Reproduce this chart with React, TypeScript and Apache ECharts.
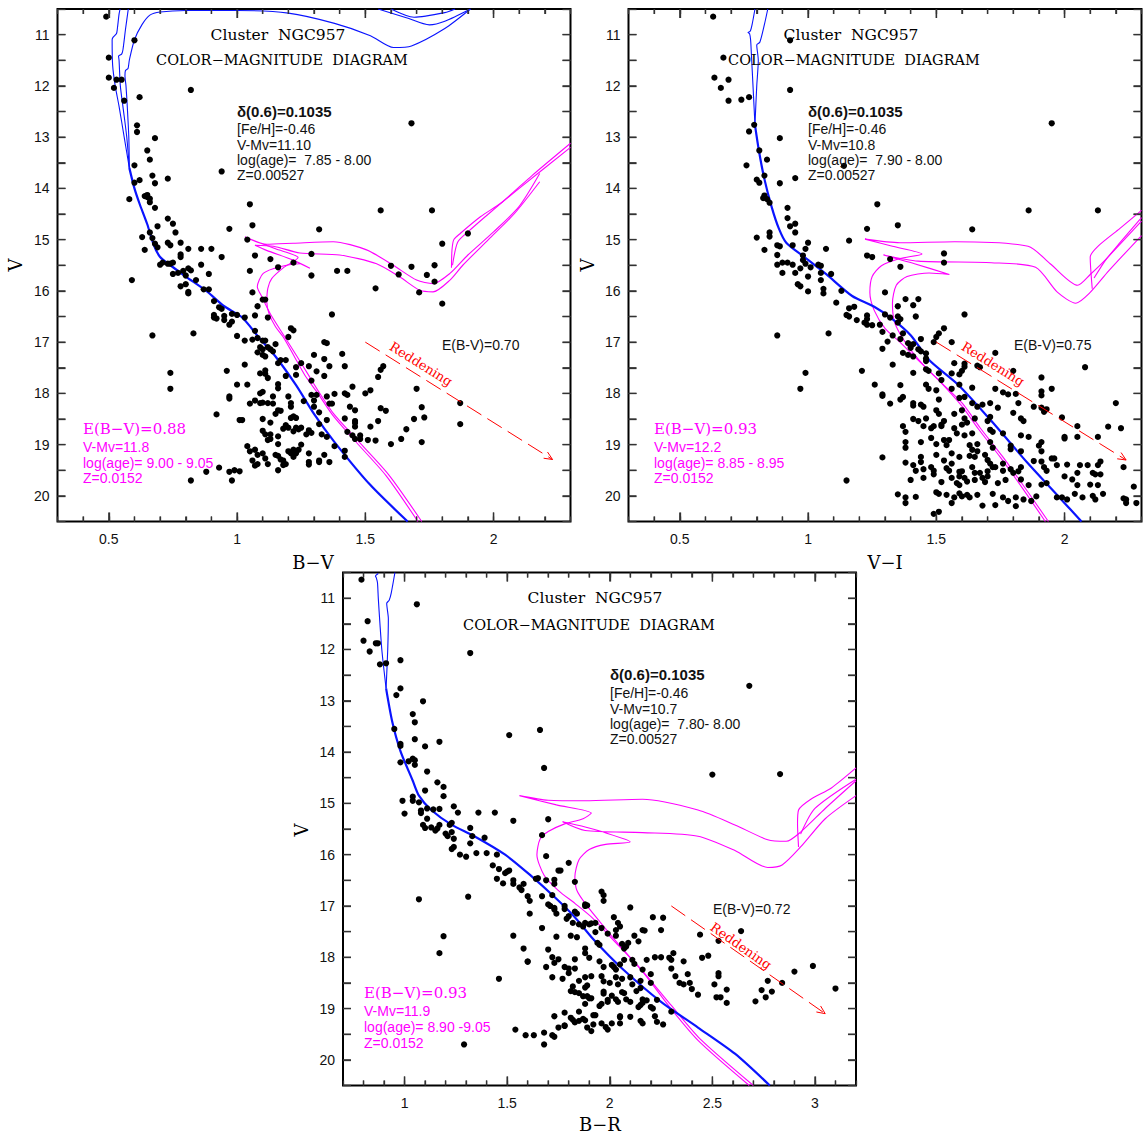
import React, { useEffect, useRef } from "react";
import * as echarts from "echarts";

// ---------------- data ----------------
const Y_LABELS = [11, 12, 13, 14, 15, 16, 17, 18, 19, 20];
const Y_TICKS = [11, 11.5, 12, 12.5, 13, 13.5, 14, 14.5, 15, 15.5, 16, 16.5, 17, 17.5, 18, 18.5, 19, 19.5, 20];
const X12_MAJOR = [0.5, 1, 1.5, 2];
const X12_MINOR = [0.4, 0.6, 0.7, 0.8, 0.9, 1.1, 1.2, 1.3, 1.4, 1.6, 1.7, 1.8, 1.9, 2.1, 2.2];
const X3_MAJOR = [1, 1.5, 2, 2.5, 3];
const X3_MINOR = [0.8, 0.9, 1.1, 1.2, 1.3, 1.4, 1.6, 1.7, 1.8, 1.9, 2.1, 2.2, 2.3, 2.4, 2.6, 2.7, 2.8, 2.9, 3.1];

const P1_STARS = [
  [0.49,10.65],[0.50,11.45],[0.50,11.84],[0.52,12.04],[0.53,11.88],[0.55,11.88],[0.56,12.29],[0.60,11.11],[0.62,12.22],[0.61,12.77],[0.61,12.9],[0.82,12.08],[0.68,13.02],[0.65,13.26],[0.66,13.44],[0.60,13.55],[0.67,13.75],[0.68,13.9],[0.62,13.84],[0.60,13.89],[0.73,13.81],[0.94,13.67],[0.58,14.21],[0.64,14.15],[0.65,14.17],[0.66,14.2],[0.65,14.13],[0.66,14.27],[0.68,14.38],[1.05,14.31],[1.56,14.43],[1.76,14.43],[1.68,12.73],[0.73,14.59],[0.75,14.69],[0.69,14.74],[0.97,14.79],[1.06,14.72],[1.32,14.8],[0.63,14.95],[0.66,14.86],[0.67,14.97],[0.64,15.2],[0.68,15.08],[0.69,15.15],[0.73,15.06],[0.74,15.11],[0.71,15.45],[0.70,15.49],[0.73,15.47],[0.74,15.47],[0.75,15.45],[0.76,14.86],[0.78,15.06],[0.78,15.29],[0.78,15.34],[0.81,15.18],[0.86,15.18],[0.90,15.18],[0.94,15.34],[1.04,15.0],[1.07,15.31],[1.13,15.38],[1.29,15.28],[0.75,15.67],[0.77,15.65],[0.79,15.61],[0.80,15.70],[0.81,15.56],[0.82,15.6],[0.84,15.79],[0.86,15.49],[0.89,15.67],[0.78,15.91],[0.80,15.87],[0.81,16.02],[0.81,16.05],[0.87,15.97],[0.89,15.97],[0.59,15.79],[1.05,15.61],[1.16,15.54],[1.22,15.45],[1.29,15.7],[1.39,15.61],[1.43,15.61],[1.54,15.95],[1.60,15.51],[1.63,15.68],[1.68,15.53],[1.74,15.69],[1.77,15.5],[1.77,15.82],[1.71,16.03],[1.80,15.08],[1.80,16.25],[1.90,14.88],[1.06,16.03],[1.10,16.17],[1.11,16.17],[1.08,16.3],[0.91,16.2],[0.93,16.32],[0.94,16.35],[0.91,16.47],[0.91,16.52],[0.92,16.54],[0.95,16.49],[0.95,16.57],[0.98,16.6],[0.97,16.66],[1.0,16.47],[1.03,16.52],[0.98,16.45],[1.07,16.48],[1.12,16.52],[1.37,16.46],[1.0,16.88],[1.03,16.97],[1.07,16.78],[1.06,16.95],[1.08,16.92],[1.10,16.97],[1.11,16.97],[1.21,16.73],[1.22,16.77],[1.20,16.9],[1.15,17.04],[1.09,17.1],[1.10,17.14],[1.12,17.1],[1.13,17.14],[1.14,17.18],[1.08,17.2],[1.10,17.25],[1.11,17.28],[1.34,17.0],[1.35,17.02],[1.30,17.25],[1.41,17.23],[1.17,17.35],[1.16,17.41],[1.19,17.35],[1.23,17.49],[1.25,17.41],[1.28,17.47],[1.34,17.33],[1.36,17.47],[1.42,17.47],[1.03,17.44],[0.96,17.56],[1.09,17.61],[1.11,17.62],[1.12,17.7],[1.11,17.55],[1.19,17.66],[1.23,17.64],[1.31,17.57],[1.29,17.75],[1.34,17.66],[1.45,17.87],[1.52,17.94],[1.50,18.0],[1.55,17.68],[1.56,17.54],[1.57,17.47],[1.70,17.91],[1.0,17.83],[1.04,17.83],[1.16,17.82],[1.10,17.97],[1.09,18.0],[0.97,18.06],[0.97,18.1],[1.16,17.9],[1.14,18.06],[1.20,18.06],[1.29,18.03],[1.31,18.03],[1.35,18.06],[1.38,18.01],[1.42,18.0],[1.43,18.03],[1.05,18.2],[1.07,18.14],[1.09,18.19],[1.10,18.18],[1.12,18.19],[1.14,18.2],[1.21,18.19],[1.21,18.26],[1.26,18.15],[1.30,18.14],[1.30,18.26],[1.32,18.37],[1.36,18.2],[1.37,18.2],[1.44,18.26],[1.46,18.33],[1.56,18.29],[1.58,18.34],[1.72,18.27],[1.73,18.47],[1.69,18.5],[1.87,18.19],[1.87,18.6],[0.92,18.41],[1.01,18.52],[1.02,18.52],[1.10,18.5],[1.15,18.4],[1.13,18.57],[1.16,18.33],[1.17,18.34],[1.22,18.45],[1.23,18.48],[1.21,18.48],[1.18,18.69],[1.19,18.62],[1.20,18.67],[1.22,18.74],[1.23,18.67],[1.24,18.7],[1.25,18.67],[1.28,18.72],[1.29,18.77],[1.27,18.8],[1.32,18.6],[1.33,18.8],[1.35,18.85],[1.35,18.52],[1.42,18.49],[1.46,18.54],[1.46,18.58],[1.43,18.75],[1.45,18.82],[1.46,18.65],[1.48,18.82],[1.46,18.89],[1.48,18.89],[1.52,18.65],[1.51,18.91],[1.54,18.92],[1.55,18.54],[1.60,18.99],[1.64,18.89],[1.66,18.7],[1.72,18.95],[1.10,18.73],[1.11,18.8],[1.13,18.8],[1.12,18.91],[1.13,18.89],[1.16,18.84],[1.16,18.99],[1.04,19.03],[1.05,19.13],[1.07,19.1],[1.08,19.2],[1.10,19.17],[1.06,19.31],[1.07,19.41],[1.08,19.38],[1.11,19.27],[1.12,19.38],[1.15,19.2],[1.16,19.22],[1.17,19.29],[1.18,19.31],[1.18,19.4],[1.19,19.38],[1.16,19.5],[1.20,19.13],[1.21,19.17],[1.22,19.1],[1.23,19.17],[1.24,19.1],[1.22,19.24],[1.25,19.0],[1.28,19.17],[1.28,19.34],[1.28,19.39],[1.32,19.31],[1.32,19.34],[1.34,19.2],[1.36,19.34],[1.38,19.03],[1.42,19.12],[1.42,19.24],[0.93,19.45],[0.88,19.53],[0.97,19.53],[0.99,19.5],[1.01,19.52],[0.98,19.7],[0.82,19.7],[0.67,16.87],[0.83,16.83],[0.74,17.6],[0.74,17.91]
];

const P2_STARS = [
  [0.63,10.65],[0.67,11.45],[0.635,11.84],[0.66,12.04],[0.69,11.88],[0.69,12.29],[0.74,12.27],[0.93,11.11],[0.93,12.08],[0.77,12.22],[0.79,12.76],[0.77,12.89],[0.89,13.02],[0.81,13.26],[0.84,13.44],[0.76,13.55],[0.83,13.75],[0.80,13.83],[0.81,13.89],[0.89,13.9],[0.95,13.8],[1.14,13.56],[0.83,14.14],[0.83,14.17],[0.84,14.21],[0.825,14.19],[0.85,14.28],[0.92,14.38],[1.95,12.73],[1.27,14.31],[1.86,14.43],[2.13,14.43],[0.92,14.58],[0.93,14.74],[0.95,14.69],[0.80,14.96],[1.23,14.79],[1.35,14.72],[1.64,14.8],[0.85,14.86],[0.85,14.94],[0.95,14.86],[1.0,15.06],[0.99,15.18],[0.88,15.11],[0.89,15.13],[0.94,15.11],[0.83,15.2],[0.88,15.3],[1.16,15.02],[1.07,15.18],[1.23,15.31],[1.25,15.34],[1.32,15.38],[1.36,15.53],[1.53,15.27],[1.53,15.45],[0.88,15.49],[0.90,15.45],[0.92,15.45],[0.94,15.49],[0.90,15.65],[0.95,15.65],[0.97,15.56],[0.98,15.4],[0.98,15.31],[0.99,15.47],[1.0,15.72],[1.01,15.54],[1.04,15.49],[1.05,15.51],[1.05,15.65],[1.05,15.79],[1.09,15.67],[0.96,15.87],[0.97,15.91],[1.0,16.01],[1.06,16.05],[1.06,15.96],[1.13,16.0],[1.11,16.23],[1.16,16.34],[1.18,16.31],[1.15,16.47],[1.16,16.5],[1.19,16.57],[1.23,16.48],[1.23,16.55],[1.22,16.62],[1.23,16.66],[1.25,16.67],[1.30,16.03],[1.30,16.46],[1.32,16.52],[1.35,16.3],[1.35,16.5],[1.36,16.55],[1.35,16.62],[1.38,16.16],[1.41,16.28],[1.43,16.16],[1.42,16.5],[1.61,16.46],[0.88,16.87],[1.08,16.83],[1.28,16.66],[1.29,16.8],[1.33,16.87],[1.36,16.94],[1.31,16.99],[1.37,16.83],[1.39,17.02],[1.40,17.11],[1.41,17.04],[1.43,17.14],[1.44,16.94],[1.44,17.18],[1.46,17.22],[1.49,17.0],[1.50,16.9],[1.51,16.83],[1.53,16.73],[1.56,17.0],[1.57,17.41],[1.61,17.42],[1.61,17.48],[1.29,17.13],[1.37,17.21],[1.39,17.25],[1.41,17.28],[1.46,17.32],[1.46,17.37],[1.33,17.44],[1.21,17.56],[1.41,17.6],[1.46,17.53],[1.47,17.56],[1.51,17.61],[1.56,17.61],[1.59,17.63],[1.60,17.56],[1.52,17.74],[1.59,17.83],[1.66,17.46],[1.67,17.49],[1.73,17.21],[1.80,17.56],[1.91,17.69],[2.08,17.49],[0.99,17.6],[0.97,17.91],[1.26,17.83],[1.36,17.84],[1.46,17.83],[1.47,17.91],[1.50,17.94],[1.56,17.91],[1.64,17.89],[1.73,17.91],[1.76,17.98],[1.78,18.02],[1.81,18.01],[1.91,17.96],[1.91,18.04],[1.95,17.91],[1.29,18.02],[1.29,18.05],[1.32,18.2],[1.36,18.12],[1.37,18.07],[1.41,18.19],[1.41,18.24],[1.44,18.22],[1.45,18.26],[1.51,18.12],[1.59,18.09],[1.61,18.07],[1.64,18.19],[1.66,18.26],[1.68,18.22],[1.71,18.19],[1.74,18.28],[1.82,18.19],[1.88,18.26],[1.93,18.31],[2.20,18.19],[1.99,18.47],[1.71,18.46],[1.80,18.38],[1.83,18.49],[1.84,18.54],[1.91,18.28],[2.05,18.64],[2.17,18.65],[2.22,18.68],[1.92,18.36],[1.50,18.33],[1.51,18.4],[1.57,18.4],[1.60,18.33],[1.61,18.49],[1.65,18.49],[1.62,18.57],[1.60,18.61],[1.41,18.5],[1.43,18.54],[1.46,18.49],[1.53,18.54],[1.70,18.54],[1.37,18.64],[1.38,18.75],[1.45,18.64],[1.48,18.68],[1.49,18.64],[1.52,18.64],[1.52,18.61],[1.57,18.68],[1.61,18.82],[1.64,18.78],[1.71,18.71],[1.72,18.75],[1.76,18.78],[1.83,18.82],[1.86,18.85],[2.0,18.85],[2.0,18.88],[2.13,18.85],[2.05,18.85],[1.38,18.95],[1.44,18.95],[1.48,18.87],[1.50,18.99],[1.53,18.91],[1.54,19.01],[1.55,18.91],[1.58,18.78],[1.63,19.01],[1.64,19.1],[1.66,18.99],[1.66,19.13],[1.69,19.2],[1.70,19.3],[1.71,18.95],[1.72,19.06],[1.79,19.02],[1.79,19.09],[1.83,19.13],[1.91,18.95],[1.90,19.02],[1.91,19.13],[1.38,19.06],[1.50,19.2],[1.56,19.17],[1.59,19.24],[1.63,19.22],[1.65,19.24],[1.29,19.25],[1.44,19.24],[1.44,19.34],[1.53,19.31],[1.56,19.37],[1.71,19.37],[1.72,19.44],[1.76,19.37],[1.88,19.32],[1.91,19.33],[1.95,19.27],[1.96,19.27],[2.14,19.33],[1.38,19.35],[1.41,19.4],[1.42,19.51],[1.45,19.48],[1.48,19.44],[1.49,19.51],[1.54,19.46],[1.55,19.51],[1.59,19.53],[1.59,19.62],[1.60,19.52],[1.64,19.44],[1.65,19.55],[1.67,19.55],[1.70,19.52],[1.70,19.62],[1.73,19.44],[1.76,19.51],[1.79,19.48],[1.80,19.55],[1.82,19.52],[1.83,19.44],[1.92,19.44],[1.93,19.51],[1.97,19.4],[2.01,19.39],[2.05,19.55],[2.06,19.4],[2.09,19.4],[2.11,19.55],[2.12,19.58],[2.13,19.4],[2.14,19.58],[2.0,19.62],[2.03,19.68],[2.13,19.79],[2.23,19.44],[1.40,19.69],[1.15,19.7],[1.45,19.65],[1.49,19.58],[1.52,19.73],[1.56,19.65],[1.58,19.75],[1.59,19.79],[1.61,19.65],[1.62,19.72],[1.65,19.69],[1.68,19.65],[1.69,19.73],[1.74,19.75],[1.77,19.69],[1.83,19.68],[1.86,19.79],[1.91,19.78],[1.93,19.75],[2.05,19.79],[2.10,19.78],[2.27,19.82],[1.35,19.97],[1.38,20.03],[1.38,20.14],[1.42,20.02],[1.50,19.93],[1.51,19.96],[1.54,19.98],[1.56,20.14],[1.57,20.03],[1.59,19.95],[1.60,20.01],[1.62,19.98],[1.63,20.03],[1.66,19.98],[1.68,20.19],[1.72,19.96],[1.73,20.18],[1.76,20.03],[1.78,20.1],[1.81,20.03],[1.81,20.2],[1.84,20.07],[1.87,20.1],[1.89,20.01],[1.97,20.03],[1.99,20.03],[2.01,20.07],[2.04,19.96],[2.07,20.03],[2.11,20.0],[2.12,20.07],[2.15,19.96],[2.23,20.05],[2.24,20.14],[2.24,20.07],[2.28,20.14],[1.49,20.35],[1.51,20.31]
];

const P3_STARS = [
  [0.79,10.64],[0.82,11.45],[0.80,11.83],[0.83,12.04],[0.86,11.88],[0.87,11.88],[0.88,12.29],[0.91,12.27],[1.06,11.12],[1.32,12.07],[0.98,12.21],[0.98,12.76],[0.96,12.89],[1.09,13.01],[1.04,13.26],[1.05,13.42],[0.95,13.55],[1.05,13.75],[0.98,13.84],[0.98,13.88],[1.10,13.89],[1.17,13.8],[1.51,13.67],[1.66,13.57],[1.68,14.31],[2.50,14.44],[2.83,14.43],[2.68,12.71],[0.98,14.2],[1.02,14.18],[1.04,14.13],[1.05,14.16],[1.05,14.25],[1.11,14.38],[1.16,14.59],[1.19,14.68],[0.99,14.95],[1.10,14.75],[1.04,14.87],[1.04,14.95],[1.19,14.86],[1.0,15.2],[1.07,14.98],[1.08,15.14],[1.08,15.19],[1.11,15.1],[1.14,15.12],[1.17,15.11],[1.09,15.42],[1.10,15.48],[1.11,15.3],[1.13,15.47],[1.15,15.53],[1.16,15.49],[1.17,15.42],[1.22,15.42],[1.23,15.38],[1.24,15.06],[1.26,15.18],[1.20,15.59],[1.21,15.64],[1.23,15.56],[1.24,15.69],[1.23,15.89],[1.24,15.85],[1.27,16.0],[1.30,16.04],[1.32,15.48],[1.33,15.64],[1.32,15.78],[1.36,15.18],[1.35,15.97],[1.39,15.67],[1.40,15.97],[1.44,15.18],[1.45,16.0],[1.53,15.34],[1.67,15.62],[1.70,15.31],[1.43,16.21],[1.46,16.28],[1.49,16.36],[1.50,16.33],[1.51,16.31],[1.45,16.47],[1.48,16.56],[1.53,16.5],[1.53,16.57],[1.56,16.64],[1.57,16.69],[1.58,16.57],[1.60,16.81],[1.61,16.9],[1.64,16.47],[1.65,16.46],[1.69,16.5],[1.73,16.49],[1.73,16.57],[1.75,16.31],[1.76,16.31],[1.69,16.03],[1.80,16.16],[1.83,16.53],[1.67,16.81],[1.72,16.79],[1.07,16.87],[1.31,16.82],[1.53,17.58],[1.19,17.59],[1.17,17.92],[1.46,18.42],[1.61,17.15],[1.70,16.97],[1.71,17.0],[1.73,17.04],[1.73,17.07],[1.74,17.15],[1.78,17.0],[1.78,17.06],[1.80,17.2],[1.83,17.11],[1.84,17.15],[1.79,17.25],[1.82,17.33],[1.85,17.36],[1.87,17.4],[1.88,17.0],[1.88,16.97],[1.89,16.99],[1.96,16.72],[1.97,16.79],[1.97,16.9],[1.67,17.43],[1.74,17.6],[1.81,17.58],[1.84,17.61],[1.88,17.33],[1.90,17.36],[1.91,17.34],[1.93,17.33],[1.93,17.51],[1.96,17.43],[1.99,17.54],[1.94,17.72],[1.95,17.76],[2.03,17.58],[2.02,17.22],[2.04,17.33],[2.05,17.4],[2.03,17.47],[2.06,17.74],[2.07,17.83],[2.08,17.79],[2.09,17.72],[2.10,17.03],[2.12,17.58],[2.14,17.69],[2.16,17.47],[2.17,17.48],[2.21,17.22],[2.25,17.47],[2.26,17.23],[2.44,17.56],[2.64,17.49],[2.53,17.68],[1.58,17.83],[1.60,18.08],[1.60,18.09],[1.69,18.19],[1.70,17.85],[1.72,18.0],[1.73,18.11],[1.75,18.04],[1.78,18.19],[1.80,18.22],[1.83,18.04],[1.83,18.22],[1.88,17.83],[1.88,17.92],[1.90,18.01],[1.95,18.08],[1.97,18.19],[2.01,18.15],[2.02,18.19],[2.03,18.24],[2.05,18.14],[2.07,18.05],[2.11,18.05],[2.12,18.13],[2.16,18.24],[2.18,18.05],[2.22,18.0],[2.25,18.0],[2.29,18.01],[2.30,18.05],[2.31,17.92],[2.36,18.08],[2.45,18.01],[2.48,17.97],[2.90,18.28],[2.99,18.17],[3.10,18.61],[1.72,18.39],[1.77,18.42],[1.80,18.31],[1.85,18.46],[1.82,18.57],[1.88,18.39],[1.89,18.55],[1.91,18.37],[1.96,18.37],[1.97,18.47],[2.0,18.5],[2.03,18.39],[2.04,18.53],[2.06,18.42],[2.10,18.39],[2.11,18.53],[2.15,18.46],[2.20,18.33],[2.20,18.5],[2.30,18.22],[2.32,18.37],[2.34,18.5],[2.36,18.53],[2.38,18.33],[2.39,18.5],[2.40,18.62],[2.43,18.73],[2.51,18.53],[2.53,18.31],[2.53,18.37],[2.57,18.63],[2.74,18.64],[2.79,18.67],[2.84,18.5],[2.77,18.46],[1.73,19.15],[1.78,19.08],[1.78,19.33],[1.81,18.66],[1.83,18.68],[1.85,18.7],[1.88,18.59],[1.87,18.76],[1.89,18.76],[1.90,18.8],[1.91,18.8],[1.88,18.91],[1.85,19.06],[1.81,19.18],[1.92,19.13],[1.93,19.13],[1.95,18.95],[1.96,18.91],[1.97,18.67],[1.97,18.71],[1.99,18.83],[1.99,18.87],[2.01,18.75],[2.03,18.82],[2.04,18.87],[2.06,18.68],[2.07,18.7],[2.08,18.82],[2.10,18.87],[2.13,18.66],[2.15,18.6],[2.16,18.89],[2.16,18.82],[2.18,18.84],[2.15,18.93],[2.14,18.97],[2.20,18.97],[2.23,18.83],[2.21,19.0],[1.72,19.52],[1.73,19.55],[1.75,19.37],[1.78,19.34],[1.82,19.22],[1.83,19.27],[1.85,19.24],[1.87,19.2],[1.88,19.23],[1.89,19.37],[1.91,19.44],[1.92,19.31],[1.96,19.29],[1.98,19.36],[1.99,19.41],[2.01,19.29],[2.05,19.15],[2.05,19.17],[2.05,19.29],[2.10,19.16],[2.15,19.24],[2.16,19.29],[2.22,19.15],[2.23,19.26],[2.26,19.31],[2.30,19.06],[2.52,18.78],[2.54,18.78],[2.57,18.89],[2.71,18.86],[2.76,18.78],[1.54,19.41],[1.59,19.52],[1.63,19.52],[1.68,19.47],[1.68,19.7],[1.29,19.7]
];

// isochrones (blue = young, magenta = old)
const P1_BLUE_MS = [[1.665,20.5],[1.52,19.79],[1.38,18.95],[1.30,18.4],[1.23,17.84],[1.15,17.28],[1.09,16.94],[1.02,16.52],[0.95,16.3],[0.88,16.0],[0.80,15.72],[0.74,15.5],[0.70,15.34],[0.675,15.1],[0.65,14.7],[0.62,14.3],[0.60,14.0],[0.58,13.6]];
const P1_BLUE_A = [[0.58,13.6],[0.56,13.0],[0.54,12.4],[0.525,12.0],[0.515,11.6],[0.513,11.1],[0.517,11.05],[0.53,10.98],[0.533,10.9],[0.54,10.6],[0.544,10.5]];
const P1_BLUE_B = [[0.58,13.6],[0.57,13.0],[0.555,12.4],[0.545,12.0],[0.54,11.5],[0.538,11.42],[0.55,11.38],[0.555,11.3],[0.565,10.9],[0.576,10.5]];
const P1_BLUE_C = [[0.58,13.6],[0.578,13.0],[0.572,12.4],[0.567,12.0],[0.563,11.8],[0.565,11.7],[0.575,11.66],[0.58,11.5],[0.60,11.1],[0.63,10.8],[0.66,10.62],[0.70,10.56],[0.80,10.53],[1.0,10.53],[1.2,10.58],[1.38,10.78],[1.52,11.02],[1.61,11.25],[1.68,11.22],[1.81,10.88],[1.91,10.5]];
const P1_BLUE_D = [[1.55,10.5],[1.66,10.67],[1.75,10.81],[1.81,10.74],[1.91,10.5]];
const P1_BLUE_E = [[1.6,10.5],[1.69,10.66],[1.81,10.57],[1.85,10.5]];
const P1_MAG_A = [[1.72,20.5],[1.59,19.58],[1.463,18.88],[1.377,18.4],[1.32,17.98],[1.277,17.63],[1.234,17.28],[1.18,16.85],[1.13,16.45],[1.095,16.1],[1.079,15.92],[1.102,15.66],[1.167,15.53],[1.245,15.47],[1.284,15.56],[1.219,15.4],[1.115,15.21],[1.07,15.11],[1.142,15.13],[1.245,15.26],[1.40,15.3],[1.544,15.47],[1.635,15.73],[1.713,15.99],[1.764,16.02],[1.83,15.79],[1.88,15.5],[1.98,15.0],[2.08,14.5],[2.18,13.87]];
const P1_MAG_B = [[1.705,20.5],[1.58,19.6],[1.455,18.9],[1.372,18.42],[1.315,18.0],[1.265,17.65],[1.22,17.25],[1.18,16.9],[1.15,16.7],[1.125,16.45],[1.116,16.21],[1.12,15.95],[1.135,15.76],[1.18,15.55],[1.238,15.35],[1.15,15.18],[1.031,14.95],[1.115,15.09],[1.219,15.07],[1.375,15.04],[1.505,15.2],[1.609,15.5],[1.70,15.79],[1.764,15.86],[1.83,15.66],[1.90,15.3],[2.0,14.85],[2.10,14.35],[2.18,13.71]];
const P1_MAG_C = [[1.836,15.55],[1.838,15.2],[1.845,15.0],[1.87,14.88],[1.95,14.55],[2.03,14.28],[2.15,13.75],[2.30,13.12]];
const P1_MAG_D = [[1.84,15.5],[1.86,15.05],[1.90,14.85],[1.98,14.5],[2.10,14.0],[2.30,13.2]];

const P2_BLUE_MS = [[2.066,20.5],[1.987,20.07],[1.858,19.37],[1.715,18.54],[1.587,17.84],[1.472,17.35],[1.401,16.87],[1.329,16.55],[1.258,16.31],[1.172,16.1],[1.072,15.68],[0.986,15.34],[0.915,15.06],[0.886,14.78],[0.858,14.36],[0.829,13.8],[0.808,13.25],[0.793,12.76]];
const P2_BLUE_A = [[0.793,12.76],[0.786,12.06],[0.779,11.37],[0.776,11.1],[0.772,10.98],[0.766,10.96],[0.775,10.93],[0.782,10.8],[0.793,10.5]];
const P2_BLUE_B = [[0.793,12.76],[0.80,12.0],[0.806,11.5],[0.80,11.2],[0.812,11.15],[0.83,10.8],[0.843,10.5]];
const P2_MAG_A = [[1.937,20.5],[1.858,19.93],[1.758,19.23],[1.672,18.68],[1.601,18.19],[1.515,17.77],[1.429,17.35],[1.358,17.0],[1.30,16.73],[1.258,16.38],[1.241,16.03],[1.25,15.72],[1.286,15.51],[1.358,15.37],[1.444,15.28],[1.329,15.13],[1.222,14.99],[1.358,15.06],[1.572,15.04],[1.858,15.13],[1.944,15.47],[2.051,15.89],[2.10,15.68],[2.158,15.4],[2.30,14.64]];
const P2_MAG_B = [[1.925,20.5],[1.85,19.95],[1.75,19.25],[1.665,18.7],[1.60,18.25],[1.52,17.8],[1.46,17.5],[1.40,17.15],[1.36,16.85],[1.336,16.59],[1.329,16.24],[1.344,15.89],[1.386,15.72],[1.472,15.65],[1.551,15.68],[1.415,15.47],[1.294,15.3],[1.429,15.42],[1.715,15.45],[1.887,15.54],[1.973,16.03],[2.044,16.24],[2.10,16.03],[2.172,15.61],[2.30,14.92]];
const P2_MAG_C = [[2.108,15.96],[2.10,15.34],[2.13,15.13],[2.216,14.78],[2.30,14.43]];
const P2_MAG_D = [[2.115,15.75],[2.16,15.4],[2.216,15.06],[2.30,14.57]];

const P3_BLUE_MS = [[2.78,20.5],[2.61,19.88],[2.43,19.37],[2.25,18.87],[2.06,18.22],[1.92,17.65],[1.83,17.22],[1.74,16.86],[1.61,16.39],[1.49,16.0],[1.34,15.64],[1.23,15.42],[1.13,15.13],[1.07,14.85],[1.04,14.56],[0.98,13.98],[0.94,13.41],[0.91,12.76]];
const P3_BLUE_A = [[0.91,12.76],[0.89,12.04],[0.88,11.5],[0.872,11.0],[0.868,10.7],[0.862,10.6],[0.858,10.57],[0.872,10.52]];
const P3_BLUE_B = [[0.91,12.76],[0.918,12.0],[0.921,11.4],[0.913,11.1],[0.925,11.04],[0.935,10.9],[0.953,10.5]];
const P3_MAG_A = [[2.70,20.5],[2.44,19.59],[2.30,18.94],[2.15,18.22],[2.03,17.72],[1.92,17.25],[1.83,16.95],[1.75,16.7],[1.68,16.4],[1.645,16.0],[1.66,15.7],[1.70,15.55],[1.78,15.4],[1.87,15.3],[1.91,15.19],[1.74,15.03],[1.56,14.85],[1.70,14.94],[1.88,14.95],[2.16,14.92],[2.43,15.13],[2.61,15.42],[2.77,15.71],[2.86,15.74],[2.93,15.56],[3.05,15.1],[3.2,14.56]];
const P3_MAG_B = [[2.68,20.5],[2.43,19.62],[2.29,18.96],[2.16,18.28],[2.05,17.78],[1.95,17.3],[1.88,16.95],[1.84,16.7],[1.83,16.43],[1.85,16.1],[1.90,15.9],[1.98,15.8],[2.10,15.75],[1.96,15.55],[1.88,15.46],[1.77,15.36],[1.88,15.53],[2.16,15.57],[2.43,15.64],[2.61,15.92],[2.77,16.25],[2.84,16.2],[2.93,15.85],[3.05,15.3],[3.2,14.85]];
const P3_MAG_C = [[2.92,15.85],[2.915,15.4],[2.92,15.13],[2.98,14.92],[3.08,14.7],[3.2,14.31]];
const P3_MAG_D = [[2.93,15.6],[3.0,15.1],[3.2,14.53]];

// reddening vectors [x1, y1, x2, y2]
const P1_ARROW = [1.50, 17.0, 2.23, 19.29];
const P2_ARROW = [1.50, 17.0, 2.24, 19.3];
const P3_ARROW = [2.30, 17.0, 3.05, 19.1];

// ---------------- styling ----------------
const SANS = '"Liberation Sans", Arial, Helvetica, sans-serif';
const SERIF = '"DejaVu Serif", "Liberation Serif", serif';
const BLUE = "#0a14ff";
const MAG = "#ff00ff";
const RED = "#ff0000";
const TICK_COLOR = "#333333";
const Y_MIN = 10.5;
const Y_MAX = 20.5;

const PANELS = [
  { grid: { left: 57.5, top: 9, width: 513, height: 512.5 }, xMin: 0.3, xMax: 2.3, major: X12_MAJOR, minor: X12_MINOR,
    stars: P1_STARS, blueMs: P1_BLUE_MS, blue: [P1_BLUE_A, P1_BLUE_B, P1_BLUE_C, P1_BLUE_D, P1_BLUE_E],
    mag: [P1_MAG_A, P1_MAG_B, P1_MAG_C, P1_MAG_D], arrow: P1_ARROW },
  { grid: { left: 628.5, top: 9, width: 513, height: 512.5 }, xMin: 0.3, xMax: 2.3, major: X12_MAJOR, minor: X12_MINOR,
    stars: P2_STARS, blueMs: P2_BLUE_MS, blue: [P2_BLUE_A, P2_BLUE_B],
    mag: [P2_MAG_A, P2_MAG_B, P2_MAG_C, P2_MAG_D], arrow: P2_ARROW },
  { grid: { left: 343, top: 572.5, width: 513, height: 513 }, xMin: 0.7, xMax: 3.2, major: X3_MAJOR, minor: X3_MINOR,
    stars: P3_STARS, blueMs: P3_BLUE_MS, blue: [P3_BLUE_A, P3_BLUE_B],
    mag: [P3_MAG_A, P3_MAG_B, P3_MAG_C, P3_MAG_D], arrow: P3_ARROW },
];

function t(x: number, y: number, text: string, font: string, fill = "#111", align = "left", rotation = 0) {
  return { type: "text", x, y, rotation, silent: true, z: 100,
    style: { text, font, fill, textAlign: align, textVerticalAlign: "middle" } };
}

function panelTexts(p: {
  title: [number, number]; sub: [number, number]; infoX: number; infoY: number[]; info: string[];
  magX: number; magY: number[]; mag: string[]; ebv: [number, number, string]; red: [number, number, number];
  vLab: [number, number]; xLab: [number, number, string];
}) {
  const out: any[] = [];
  out.push(t(p.title[0], p.title[1], "Cluster  NGC957", `15.5px ${SERIF}`, "#000", "center"));
  out.push(t(p.sub[0], p.sub[1], "COLOR\u2212MAGNITUDE  DIAGRAM", `14.5px ${SERIF}`, "#000", "center"));
  p.info.forEach((s, i) => out.push(t(p.infoX, p.infoY[i], s, i === 0 ? `bold 15px ${SANS}` : `14px ${SANS}`, "#111")));
  p.mag.forEach((s, i) => out.push(t(p.magX, p.magY[i], s, i === 0 ? `15px ${SERIF}` : `14px ${SANS}`, MAG)));
  out.push(t(p.ebv[0], p.ebv[1], p.ebv[2], `14px ${SANS}`, "#111"));
  out.push(t(p.red[0], p.red[1], "Reddening", `13px ${SERIF}`, RED, "center", -p.red[2] * Math.PI / 180));
  out.push(t(p.vLab[0], p.vLab[1], "V", `18px ${SERIF}`, "#000", "center", Math.PI / 2));
  out.push(t(p.xLab[0], p.xLab[1], p.xLab[2], `18px ${SERIF}`, "#000", "center"));
  return out;
}

const BASE_GRAPHIC = [
  ...panelTexts({
    title: [278, 35], sub: [282, 60], infoX: 237, infoY: [111, 129, 144.5, 160, 175],
    info: ["\u03b4(0.6)=0.1035", "[Fe/H]=-0.46", "V-Mv=11.10", "log(age)=  7.85 - 8.00", "Z=0.00527"],
    magX: 83, magY: [429, 447, 462.5, 478], mag: ["E(B\u2212V)=0.88", "V-Mv=11.8", "log(age)= 9.00 - 9.05", "Z=0.0152"],
    ebv: [442, 345, "E(B-V)=0.70"], red: [421, 364, 32], vLab: [15, 265], xLab: [313, 562, "B\u2212V"],
  }),
  ...panelTexts({
    title: [851, 35], sub: [854, 60], infoX: 808, infoY: [111, 129, 144.5, 160, 175],
    info: ["\u03b4(0.6)=0.1035", "[Fe/H]=-0.46", "V-Mv=10.8", "log(age)=  7.90 - 8.00", "Z=0.00527"],
    magX: 654, magY: [429, 447, 462.5, 478], mag: ["E(B\u2212V)=0.93", "V-Mv=12.2", "log(age)= 8.85 - 8.95", "Z=0.0152"],
    ebv: [1014, 345, "E(B-V)=0.75"], red: [993, 364, 32], vLab: [587, 265], xLab: [885, 562, "V\u2212I"],
  }),
  ...panelTexts({
    title: [595, 598], sub: [589, 625], infoX: 610, infoY: [674.5, 693, 708.5, 723.5, 739],
    info: ["\u03b4(0.6)=0.1035", "[Fe/H]=-0.46", "V-Mv=10.7", "log(age)=  7.80- 8.00", "Z=0.00527"],
    magX: 364, magY: [993, 1011, 1027, 1042.5], mag: ["E(B\u2212V)=0.93", "V-Mv=11.9", "log(age)= 8.90 -9.05", "Z=0.0152"],
    ebv: [713, 909, "E(B-V)=0.72"], red: [741, 946, 35], vLab: [301, 830], xLab: [600, 1124, "B\u2212R"],
  }),
];

function buildOption() {
  const grid: any[] = [];
  const xAxis: any[] = [];
  const yAxis: any[] = [];
  const series: any[] = [];
  const AXLINE = { show: true, onZero: false, lineStyle: { color: "#000", width: 1 } };
  const TICKSTYLE = { color: TICK_COLOR, width: 1.3 };

  PANELS.forEach((p, i) => {
    grid.push({ ...p.grid, show: true, borderColor: "#000", borderWidth: 2, containLabel: false });
    const xb = { gridIndex: i, type: "value", min: p.xMin, max: p.xMax, splitLine: { show: false }, axisLine: AXLINE };
    xAxis.push({ ...xb, position: "bottom",
      axisTick: { show: true, inside: true, length: 9, customValues: p.major, lineStyle: TICKSTYLE },
      axisLabel: { show: true, customValues: p.major, margin: 10, fontSize: 14, color: "#111", fontFamily: SANS } });
    xAxis.push({ ...xb, position: "bottom", interval: 0.1, axisTick: { show: true, inside: true, length: 5, lineStyle: TICKSTYLE }, axisLabel: { show: false } });
    xAxis.push({ ...xb, position: "top", axisTick: { show: true, inside: true, length: 9, customValues: p.major, lineStyle: TICKSTYLE }, axisLabel: { show: false } });
    xAxis.push({ ...xb, position: "top", interval: 0.1, axisTick: { show: true, inside: true, length: 5, lineStyle: TICKSTYLE }, axisLabel: { show: false } });
    const yb = { gridIndex: i, type: "value", inverse: true, min: Y_MIN, max: Y_MAX, interval: 0.5, splitLine: { show: false }, axisLine: AXLINE };
    yAxis.push({ ...yb, position: "left",
      axisTick: { show: true, inside: true, length: 8, lineStyle: TICKSTYLE },
      axisLabel: { show: true, customValues: Y_LABELS, margin: 8, fontSize: 14, color: "#111", fontFamily: SANS } });
    yAxis.push({ ...yb, position: "right", axisTick: { show: true, inside: true, length: 8, lineStyle: TICKSTYLE }, axisLabel: { show: false } });

    const xi = i * 4, yi = i * 2;
    const line = (data: number[][], color: string, width: number) => ({
      type: "line", xAxisIndex: xi, yAxisIndex: yi, data, showSymbol: false, symbol: "none", silent: true,
      clip: true, z: 2, smooth: 0.25, lineStyle: { color, width }, animation: false,
    });
    p.mag.forEach((d) => series.push(line(d, MAG, 1.1)));
    series.push(line(p.blueMs, BLUE, 2.2));
    p.blue.forEach((d) => series.push(line(d, BLUE, 1.1)));
    series.push({
      type: "scatter", xAxisIndex: xi, yAxisIndex: yi, data: p.stars, symbol: "circle", symbolSize: 6.2,
      itemStyle: { color: "#000", opacity: 1 }, silent: true, z: 3, clip: true, animation: false,
    });
    series.push({
      type: "custom", xAxisIndex: xi, yAxisIndex: yi, data: [p.arrow], silent: true, z: 4,
      dimensions: ["x1", "y1", "x2", "y2"], encode: { x: [0, 2], y: [1, 3] },
      renderItem: (params: any, api: any) => {
        const a = api.coord([api.value(0), api.value(1)]);
        const b = api.coord([api.value(2), api.value(3)]);
        const ang = Math.atan2(b[1] - a[1], b[0] - a[0]);
        const h = 9, s = 0.42;
        const h1 = [b[0] - h * Math.cos(ang - s), b[1] - h * Math.sin(ang - s)];
        const h2 = [b[0] - h * Math.cos(ang + s), b[1] - h * Math.sin(ang + s)];
        return {
          type: "group",
          children: [
            { type: "line", shape: { x1: a[0], y1: a[1], x2: b[0], y2: b[1] }, style: { stroke: RED, lineWidth: 1, lineDash: [17, 7], fill: null } },
            { type: "polyline", shape: { points: [h1, b, h2] }, style: { stroke: RED, lineWidth: 1, fill: null } },
          ],
        };
      },
    });
  });

  return { animation: false, backgroundColor: "#fff", grid, xAxis, yAxis, series, graphic: BASE_GRAPHIC };
}

// tick marks drawn as graphic lines, positioned with the chart's own axis scales
function tickGraphic(chart: any) {
  const out: any[] = [];
  const seg = (a: number[], b: number[]) => out.push({ type: "line", silent: true, z: 90,
    shape: { x1: a[0], y1: a[1], x2: b[0], y2: b[1] }, style: { stroke: TICK_COLOR, lineWidth: 1.3, fill: null } });
  PANELS.forEach((p, i) => {
    const px = (x: number, y: number) => chart.convertToPixel({ xAxisIndex: i * 4, yAxisIndex: i * 2 }, [x, y]) as number[];
    const xt = (v: number, len: number) => {
      const b = px(v, Y_MAX); const tp = px(v, Y_MIN);
      if (!b || !tp) return;
      seg(b, [b[0], b[1] - len]); seg(tp, [tp[0], tp[1] + len]);
    };
    p.major.forEach((v) => xt(v, 9));
    p.minor.forEach((v) => xt(v, 5));
    Y_TICKS.forEach((v) => {
      const l = px(p.xMin, v); const r = px(p.xMax, v);
      if (!l || !r) return;
      seg(l, [l[0] + 8, l[1]]); seg(r, [r[0] - 8, r[1]]);
    });
  });
  return out;
}

export default function App() {
  const ref = useRef<HTMLDivElement>(null);
  useEffect(() => {
    const chart = echarts.init(ref.current as HTMLDivElement, null, { renderer: "svg" });
    chart.setOption(buildOption() as any);
    try {
      const ticks = tickGraphic(chart);
      chart.setOption({ graphic: [...BASE_GRAPHIC, ...ticks] } as any);
    } catch (e) {
      // keep the chart even if tick conversion fails
    }
    return () => chart.dispose();
  }, []);
  return <div ref={ref} style={{ position: "absolute", left: 0, top: 0, width: 1144, height: 1138, background: "#fff" }} />;
}
